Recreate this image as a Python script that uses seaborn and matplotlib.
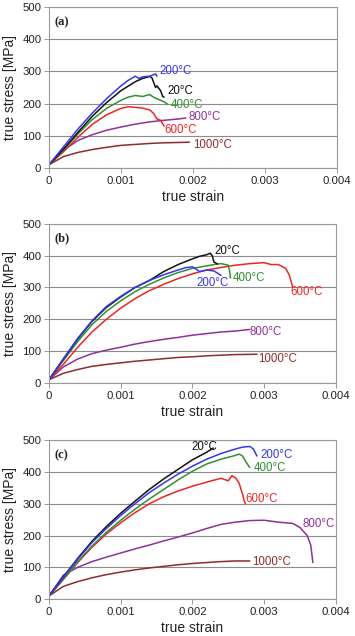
import numpy as np
import pandas as pd
import matplotlib
matplotlib.use("Agg")
import matplotlib.pyplot as plt
import seaborn as sns

sns.set_theme(style="white")
plt.rcParams['font.family'] = ['Liberation Sans', 'DejaVu Sans']

temps = ["20°C", "200°C", "400°C", "600°C", "800°C", "1000°C"]
colors = {"20°C": "#111111", "200°C": "#3535f0", "400°C": "#2e922e",
          "600°C": "#f02424", "800°C": "#903098", "1000°C": "#8e2c2c"}
panel_labels = ["(a)", "(b)", "(c)"]

# ---- panel (a) ----
a_20_x = [0, 0.0002, 0.0004, 0.0006, 0.0008, 0.001, 0.0012, 0.0013, 0.0014, 0.00143, 0.00148, 0.0015, 0.00155, 0.00158, 0.0016]
a_20_y = [10, 58, 110, 160, 203, 240, 268, 278, 284, 280, 250, 255, 240, 222, 220]
a_200_x = [0, 0.0002, 0.0004, 0.0006, 0.0008, 0.001, 0.0011, 0.0012, 0.00125, 0.0013, 0.0014, 0.00148, 0.0015]
a_200_y = [10, 65, 120, 170, 215, 255, 272, 285, 278, 283, 285, 292, 285]
a_400_x = [0, 0.0002, 0.0004, 0.0006, 0.0008, 0.001, 0.0011, 0.0012, 0.0013, 0.0014, 0.00145, 0.0015, 0.0016, 0.00165]
a_400_y = [10, 55, 105, 150, 185, 210, 220, 225, 222, 228, 220, 215, 205, 198]
a_600_x = [0, 0.0002, 0.0004, 0.0006, 0.0008, 0.001, 0.0011, 0.0012, 0.0013, 0.0014, 0.00145, 0.0015, 0.00155, 0.0016]
a_600_y = [10, 50, 95, 135, 165, 185, 190, 188, 186, 180, 170, 152, 148, 130]
a_800_x = [0, 0.0002, 0.0004, 0.0006, 0.0008, 0.001, 0.0012, 0.0014, 0.0016, 0.0018, 0.0019]
a_800_y = [10, 55, 85, 103, 117, 127, 136, 143, 148, 152, 155]
a_1000_x = [0, 0.0002, 0.0004, 0.0006, 0.0008, 0.001, 0.0012, 0.0014, 0.0016, 0.0018, 0.00195]
a_1000_y = [10, 35, 48, 57, 64, 70, 73, 76, 78, 79, 80]

# ---- panel (b) ----
b_20_x = [0, 0.0002, 0.0004, 0.0006, 0.0008, 0.001, 0.0012, 0.0014, 0.0016, 0.0018, 0.002, 0.0021, 0.0022, 0.00225, 0.00228, 0.0023, 0.00235]
b_20_y = [10, 75, 138, 193, 237, 270, 300, 322, 350, 372, 390, 398, 403, 408, 398, 380, 374]
b_200_x = [0, 0.0002, 0.0004, 0.0006, 0.0008, 0.001, 0.0012, 0.0014, 0.0016, 0.0018, 0.0019, 0.002, 0.00205, 0.0021, 0.0022, 0.0023, 0.0024]
b_200_y = [10, 75, 140, 195, 240, 272, 300, 322, 340, 355, 362, 365, 358, 350, 355, 352, 338]
b_400_x = [0, 0.0002, 0.0004, 0.0006, 0.0008, 0.001, 0.0012, 0.0014, 0.0016, 0.0018, 0.002, 0.0022, 0.0023, 0.0024, 0.0025, 0.00252, 0.00253]
b_400_y = [10, 70, 130, 183, 225, 258, 287, 310, 330, 347, 360, 368, 372, 375, 370, 350, 330]
b_600_x = [0, 0.0002, 0.0004, 0.0006, 0.0008, 0.001, 0.0012, 0.0014, 0.0016, 0.0018, 0.002, 0.0022, 0.0024, 0.0026, 0.0028, 0.003, 0.0031, 0.0032, 0.0033, 0.00335, 0.0034]
b_600_y = [10, 58, 112, 160, 200, 235, 265, 290, 310, 328, 343, 355, 363, 370, 375, 378, 372, 372, 360, 340, 300]
b_800_x = [0, 0.0002, 0.0004, 0.0006, 0.0008, 0.001, 0.0012, 0.0014, 0.0016, 0.0018, 0.002, 0.0022, 0.0024, 0.0026, 0.0028]
b_800_y = [10, 50, 75, 92, 103, 112, 122, 130, 137, 143, 150, 155, 160, 163, 168]
b_1000_x = [0, 0.0002, 0.0004, 0.0006, 0.0008, 0.001, 0.0012, 0.0014, 0.0016, 0.0018, 0.002, 0.0022, 0.0024, 0.0026, 0.0029]
b_1000_y = [10, 30, 42, 52, 58, 63, 68, 72, 76, 80, 82, 85, 87, 89, 90]

# ---- panel (c) ----
c_20_x = [0, 0.0002, 0.0004, 0.0006, 0.0008, 0.001, 0.0012, 0.0014, 0.0016, 0.0018, 0.002, 0.0022, 0.00229]
c_20_y = [10, 70, 128, 182, 228, 270, 308, 345, 378, 408, 438, 462, 475]
c_200_x = [0, 0.0002, 0.0004, 0.0006, 0.0008, 0.001, 0.0012, 0.0014, 0.0016, 0.0018, 0.002, 0.0022, 0.0024, 0.0026, 0.0027, 0.0028, 0.00285, 0.0029]
c_200_y = [10, 68, 125, 178, 222, 263, 300, 335, 365, 393, 418, 440, 458, 472, 478, 480, 472, 450]
c_400_x = [0, 0.0002, 0.0004, 0.0006, 0.0008, 0.001, 0.0012, 0.0014, 0.0016, 0.0018, 0.002, 0.0022, 0.0024, 0.0026, 0.00265, 0.0027, 0.00275, 0.0028]
c_400_y = [10, 62, 117, 167, 210, 248, 283, 315, 345, 375, 402, 425, 440, 452, 456, 450, 430, 414]
c_600_x = [0, 0.0002, 0.0004, 0.0006, 0.0008, 0.001, 0.0012, 0.0014, 0.0016, 0.0018, 0.002, 0.0022, 0.0024, 0.0025, 0.00255, 0.0026, 0.00265, 0.0027, 0.00272, 0.00274]
c_600_y = [10, 62, 115, 163, 205, 240, 272, 300, 322, 340, 355, 368, 380, 372, 388, 382, 365, 330, 310, 300]
c_800_x = [0, 0.0002, 0.0004, 0.0006, 0.0008, 0.001, 0.0012, 0.0014, 0.0016, 0.0018, 0.002, 0.0022, 0.0024, 0.0026, 0.0028, 0.003, 0.0032, 0.0034, 0.0035, 0.0036, 0.00365, 0.00368]
c_800_y = [10, 75, 100, 118, 132, 145, 158, 170, 183, 195, 208, 222, 235, 242, 247, 248, 242, 238, 225, 200, 170, 115]
c_1000_x = [0, 0.0002, 0.0004, 0.0006, 0.0008, 0.001, 0.0012, 0.0014, 0.0016, 0.0018, 0.002, 0.0022, 0.0024, 0.0026, 0.0028]
c_1000_y = [10, 40, 55, 67, 77, 85, 92, 98, 103, 108, 112, 115, 118, 120, 120]

panels = [
    {"20°C": (a_20_x, a_20_y), "200°C": (a_200_x, a_200_y), "400°C": (a_400_x, a_400_y),
     "600°C": (a_600_x, a_600_y), "800°C": (a_800_x, a_800_y), "1000°C": (a_1000_x, a_1000_y)},
    {"20°C": (b_20_x, b_20_y), "200°C": (b_200_x, b_200_y), "400°C": (b_400_x, b_400_y),
     "600°C": (b_600_x, b_600_y), "800°C": (b_800_x, b_800_y), "1000°C": (b_1000_x, b_1000_y)},
    {"20°C": (c_20_x, c_20_y), "200°C": (c_200_x, c_200_y), "400°C": (c_400_x, c_400_y),
     "600°C": (c_600_x, c_600_y), "800°C": (c_800_x, c_800_y), "1000°C": (c_1000_x, c_1000_y)},
]

# curve label anchor positions (strain, stress)
label_pos = [
    {"200°C": (0.00153, 302), "20°C": (0.00164, 240), "400°C": (0.00169, 197),
     "800°C": (0.00194, 159), "600°C": (0.00160, 117), "1000°C": (0.00200, 71)},
    {"20°C": (0.00231, 415), "200°C": (0.00206, 314), "400°C": (0.00256, 330),
     "600°C": (0.00337, 285), "800°C": (0.00279, 159), "1000°C": (0.00292, 75)},
    {"20°C": (0.00198, 478), "200°C": (0.00295, 452), "400°C": (0.00285, 412),
     "600°C": (0.00274, 315), "800°C": (0.00353, 237), "1000°C": (0.00283, 118)},
]

x_ticks = [0, 0.001, 0.002, 0.003, 0.004]
x_ticklabels = ["0", "0.001", "0.002", "0.003", "0.004"]
y_ticks = [0, 100, 200, 300, 400, 500]

fig = plt.figure(figsize=(3.55, 6.36), dpi=100)
fig.patch.set_facecolor("white")
boxes = [(0.138, 0.736, 0.811, 0.253), (0.138, 0.398, 0.808, 0.250), (0.138, 0.058, 0.808, 0.250)]

for i, (box, data, lp) in enumerate(zip(boxes, panels, label_pos)):
    ax = fig.add_axes(box)
    rows = []
    for t in temps:
        xs, ys = data[t]
        for k, (xv, yv) in enumerate(zip(xs, ys)):
            rows.append({"strain": xv, "stress": yv, "temp": t, "order": k})
    df = pd.DataFrame(rows)
    for t in ["1000°C", "800°C", "600°C", "400°C", "20°C", "200°C"]:
        sns.lineplot(data=df[df["temp"] == t], x="strain", y="stress", sort=False,
                     estimator=None, color=colors[t], linewidth=1.1, ax=ax, legend=False)
        lx, ly = lp[t]
        ax.text(lx, ly, t, color=colors[t], fontsize=8.3, ha="left", va="center")
    ax.set_xlim(0, 0.004)
    ax.set_ylim(0, 500)
    ax.set_xticks(x_ticks)
    ax.set_xticklabels(x_ticklabels)
    ax.set_yticks(y_ticks)
    ax.yaxis.grid(True, color="#8c8c8c", linewidth=0.8)
    ax.xaxis.grid(False)
    ax.set_axisbelow(True)
    for s in ax.spines.values():
        s.set_color("#9a9a9a")
        s.set_linewidth(0.8)
    ax.tick_params(axis="both", which="both", direction="out", length=3.5, width=0.7,
                   color="#9a9a9a", labelsize=8.2, labelcolor="#222222", pad=2,
                   bottom=True, left=True)
    ax.set_xlabel("true strain", fontsize=10, color="#222222", labelpad=3)
    ax.set_ylabel("true stress [MPa]", fontsize=10, color="#222222", labelpad=4)
    ax.text(0.02, 0.945, panel_labels[i], transform=ax.transAxes, fontsize=9,
            fontweight="bold", family="Liberation Serif", ha="left", va="top", color="#222222")

fig.savefig("out.png", dpi=100, facecolor="white")
